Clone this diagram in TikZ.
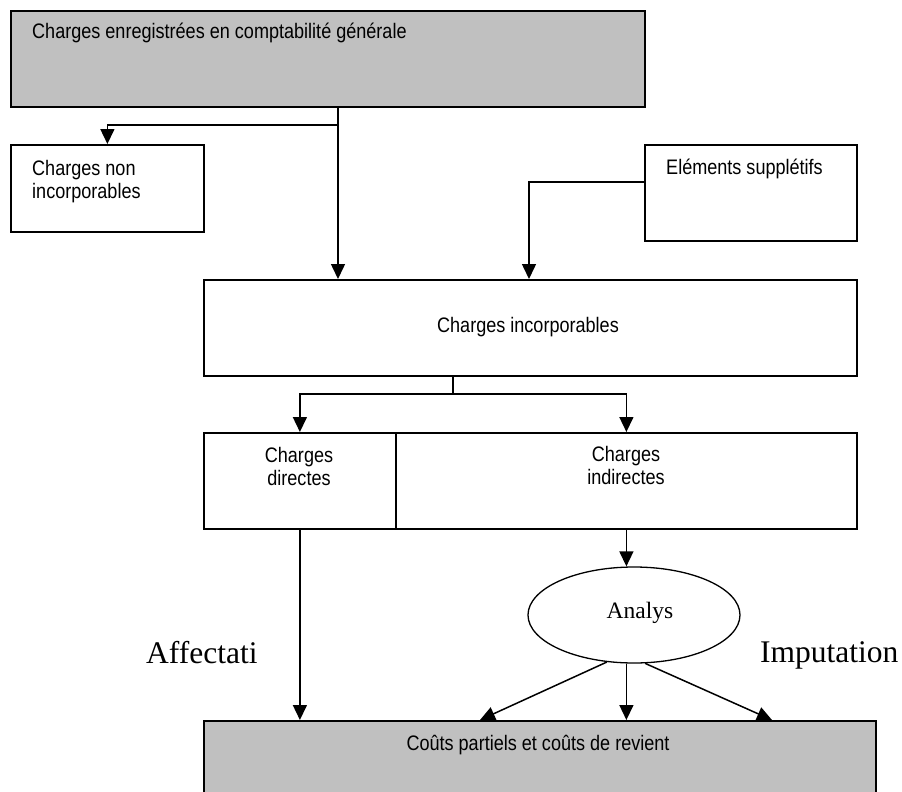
\documentclass[tikz,border=0pt]{standalone}
\usepackage{fontspec}
\setmainfont{Liberation Sans}[FakeStretch=0.86]
\newfontfamily\labelserif{Liberation Serif}
\usetikzlibrary{arrows.meta,shapes.geometric}
\definecolor{boxgray}{HTML}{C0C0C0}
\tikzset{
  box/.style={draw=black, line width=1.8pt, rectangle, inner sep=0pt, anchor=north west},
  graybox/.style={box, fill=boxgray},
  wire/.style={draw=black, line width=1.5pt},
  arr/.style={wire, -{Triangle[length=15pt,width=14pt]}},
  lbl/.style={inner sep=0pt, font=\fontsize{21}{22.5}\selectfont},
  big/.style={inner sep=0pt, font=\labelserif\fontsize{31.5}{34}\selectfont},
}
\begin{document}
\begin{tikzpicture}[x=1pt,y=-1pt]
\clip (0,0) rectangle (902,792);
\fill[white] (0,0) rectangle (902,792);

% boxes
\node[graybox, minimum width=634pt, minimum height=96pt] (top) at (10,10) {};
\node[box, minimum width=193pt, minimum height=87pt] (nonc) at (10,144) {};
\node[box, minimum width=212pt, minimum height=96pt] (supp) at (644,144) {};
\node[box, minimum width=653pt, minimum height=96pt] (inc) at (203,279) {};
\node[box, minimum width=192pt, minimum height=96pt] (dir) at (203,432) {};
\node[box, minimum width=461pt, minimum height=96pt] (ind) at (395,432) {};
\node[graybox, minimum width=672pt, minimum height=100pt] (cost) at (203,720) {};
\node[draw=black, line width=1.3pt, ellipse, minimum width=212pt, minimum height=96pt, inner sep=0pt] (ana) at (634,615) {};

% texts
\node[lbl, anchor=base west] (ttop) at (32,39) {Charges enregistrées en comptabilité générale};
\node[lbl, anchor=west, align=left] (tnonc) at (32,181.5) {Charges non\\incorporables};
\node[lbl, anchor=base west] (tsupp) at (666,174) {Eléments supplétifs};
\node[lbl, anchor=base] (tinc) at (528,332) {Charges incorporables};
\node[lbl, align=center] (tdir) at (299,466.4) {Charges\\directes};
\node[lbl, align=center] (tind) at (626,465.4) {Charges\\indirectes};
\node[lbl, anchor=base] (tcost) at (538,750) {Coûts partiels et coûts de revient};
\node[inner sep=0pt, anchor=base, font=\labelserif\fontsize{23.5}{26}\selectfont] (tana) at (640,618) {Analys};
\node[big, anchor=base west] (taff) at (146,663) {Affectati};
\node[big, anchor=base west] (timp) at (760,662) {Imputation};

% junction points
\coordinate (s1) at (338,125);
\coordinate (s2) at (529,182);
\coordinate (s3) at (453,394);
\coordinate (c1) at (480,720);
\coordinate (c3) at (772,720);

% connectors
\draw[wire] (top.south -| s1) -- (s1);
\draw[arr] (s1) -- (s1 |- inc.north);
\draw[arr] (s1) -| (nonc.north);
\draw[arr] (s2 -| supp.west) -- (s2) -- (s2 |- inc.north);
\draw[wire] (inc.south -| s3) -- (s3);
\draw[arr] (s3) -| (dir.north);
\draw[arr] (s3) -| (ind.north);
\draw[arr] (dir.south) -- (dir.south |- cost.north);
\draw[arr] (ind.south) -- (ind.south |- ana.north);
\draw[arr] (ind.south |- ana.south) -- (ind.south |- cost.north);
\draw[arr] (ana.240) -- (c1);
\draw[arr] (ana.283) -- (c3);
\end{tikzpicture}
\end{document}
